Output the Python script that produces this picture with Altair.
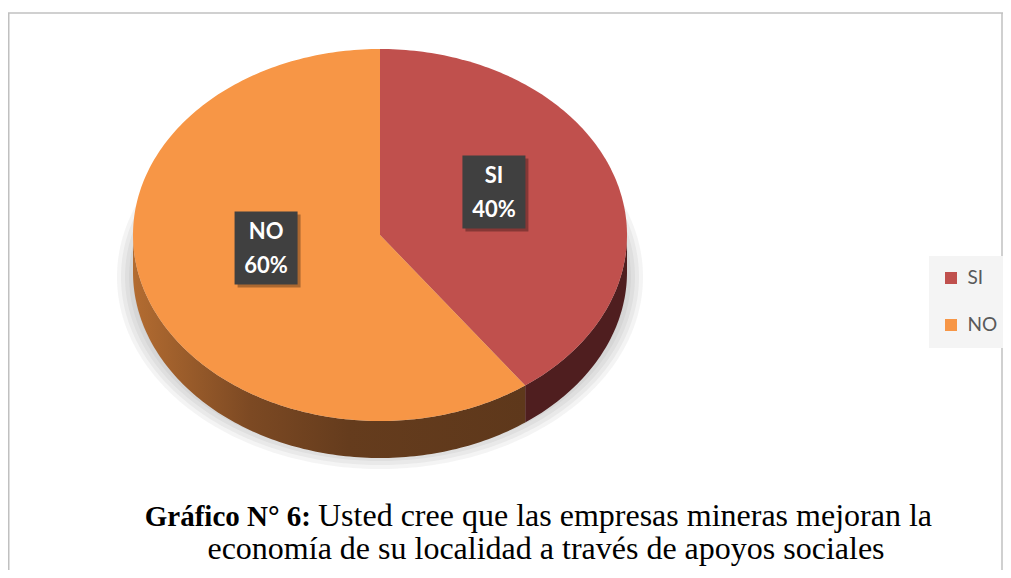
import altair as alt
import numpy as np

# ---- data ----
categories = ["SI", "NO"]
percents = [40, 60]
top_colors = ["#C0504D", "#F79646"]
side_colors = ["#4F1E1F", "#6A3F1E"]
pct_labels = ["40%", "60%"]
caption_bold = "Gráfico N° 6:"
caption_line1 = "Usted cree que las empresas mineras mejoran la"
caption_line2 = "economía de su localidad a través de apoyos sociales"

# ---- layout (style) ----
W, H = 995, 562
CX, CY, RX, RY, DEPTH = 372, 227, 247, 186, 37
LABEL_F, LABEL_UP = 0.485, 15
BOX_HW, BOX_HH = 31.5, 36.5


def ell(t_deg, dy=0.0, rx=RX, ry=RY, cx=CX, cy=CY):
    t = np.radians(t_deg)
    return [float(cx + rx * np.sin(t)), float(cy - ry * np.cos(t) + dy)]


def arc_pts(a0, a1, **kw):
    n = max(2, int(abs(a1 - a0)) + 1)
    return [ell(a, **kw) for a in np.linspace(a0, a1, n)]


def feature(ring, **props):
    ring = ring + [ring[0]]
    return {"type": "Feature",
            "geometry": {"type": "Polygon", "coordinates": [ring]},
            "properties": props}


def rect(cx, cy, hw, hh, **props):
    return feature([[cx - hw, cy - hh], [cx + hw, cy - hh], [cx + hw, cy + hh], [cx - hw, cy + hh]], **props)


total = sum(percents)
ends = list(np.cumsum(percents) / total * 360.0)
starts = [0.0] + ends[:-1]

proj = dict(type="identity", scale=1, translate=[0, 0])

# bounding frame (invisible) so that any fitting keeps 1:1 mapping
frame = [rect(W / 2, H / 2, W / 2, H / 2, cat="frame")]

# shadow
shadow_feats = []
for k in range(5):
    ring = arc_pts(0, 359, rx=RX + 4 * k, ry=RY - 10 + 4 * k, cy=CY + 42)
    shadow_feats.append(feature(ring, cat="shadow"))

layers = []
layers.append(alt.Chart(alt.Data(values=frame)).mark_geoshape(
    fill="white", fillOpacity=0, strokeWidth=0).project(**proj))
layers.append(alt.Chart(alt.Data(values=shadow_feats)).mark_geoshape(
    fill="#6F6F6F", fillOpacity=0.08, strokeWidth=0).project(**proj))

# side walls
grad_no = alt.LinearGradient(
    gradient="linear", x1=0, x2=1, y1=0, y2=0,
    stops=[alt.GradientStop(offset=0, color="#B36C31"),
           alt.GradientStop(offset=0.3, color="#7C4923"),
           alt.GradientStop(offset=0.55, color="#653C1D"),
           alt.GradientStop(offset=1, color="#5E381B")])
side_fills = [side_colors[0], grad_no]
for cat, a0, a1, fill in zip(categories, starts, ends, side_fills):
    s0, s1 = max(a0, 90.0), min(a1, 270.0)
    if s1 > s0:
        ring = arc_pts(s0, s1) + arc_pts(s1, s0, dy=DEPTH)
        layers.append(alt.Chart(alt.Data(values=[feature(ring, cat=cat)])).mark_geoshape(
            fill=fill, strokeWidth=0).project(**proj))

# top face
top_feats = []
for cat, a0, a1 in zip(categories, starts, ends):
    ring = [[float(CX), float(CY)]] + arc_pts(a0, a1)
    top_feats.append(feature(ring, cat=cat))

layers.append(alt.Chart(alt.Data(values=top_feats)).mark_geoshape(strokeWidth=0).encode(
    color=alt.Color("properties.cat:N",
                    scale=alt.Scale(domain=categories, range=top_colors),
                    legend=alt.Legend(orient="none", legendX=921, legendY=248, title=None,
                                      symbolType="square", symbolSize=144, symbolStrokeWidth=0,
                                      labelFont="Lato", labelFontSize=19, labelColor="#595959",
                                      rowPadding=27, padding=12.5, fillColor="#F4F4F4",
                                      labelOffset=7))
).project(**proj))

# label boxes
label_rows = []
box_feats = []
box_shadow = []
for cat, pl, a0, a1 in zip(categories, pct_labels, starts, ends):
    mid = (a0 + a1) / 2
    x, y = ell(mid, rx=RX * LABEL_F, ry=RY * LABEL_F)
    y -= LABEL_UP
    label_rows.append({"lon": x, "lat": y, "name": cat, "pct": pl})
    box_feats.append(rect(x, y, BOX_HW, BOX_HH, cat=cat))
    box_shadow.append(rect(x + 3, y + 3, BOX_HW, BOX_HH, cat=cat))

layers.append(alt.Chart(alt.Data(values=box_shadow)).mark_geoshape(
    fill="black", fillOpacity=0.3, strokeWidth=0).project(**proj))
layers.append(alt.Chart(alt.Data(values=box_feats)).mark_geoshape(
    fill="#404040", strokeWidth=0).project(**proj))

lab = alt.Chart(alt.Data(values=label_rows))
layers.append(lab.mark_text(font="Lato", fontWeight="bold", fontSize=22, color="white",
                            baseline="middle", dy=-16).encode(
    longitude="lon:Q", latitude="lat:Q", text="name:N").project(**proj))
layers.append(lab.mark_text(font="Lato", fontWeight="bold", fontSize=22, color="white",
                            baseline="middle", dy=18).encode(
    longitude="lon:Q", latitude="lat:Q", text="pct:N").project(**proj))

# caption
cap = alt.Chart(alt.Data(values=[{"b": caption_bold, "l1": caption_line1, "l2": caption_line2}]))
layers.append(cap.mark_text(font="Liberation Serif", fontWeight="bold", fontSize=29, color="black",
                            align="right", baseline="alphabetic").encode(
    x=alt.value(303), y=alt.value(518), text="b:N"))
layers.append(cap.mark_text(font="Liberation Serif", fontSize=32, color="black",
                            align="left", baseline="alphabetic").encode(
    x=alt.value(310), y=alt.value(518), text="l1:N"))
layers.append(cap.mark_text(font="Liberation Serif", fontSize=32, color="black",
                            align="center", baseline="alphabetic").encode(
    x=alt.value(538), y=alt.value(551), text="l2:N"))

# frame border
dummy = alt.Chart(alt.Data(values=[{"k": 1}]))
layers.append(dummy.mark_rule(color="#C0C0C0", strokeWidth=1.5).encode(
    x=alt.value(0), x2=alt.value(W), y=alt.value(5)))
layers.append(dummy.mark_rule(color="#C0C0C0", strokeWidth=1.5).encode(
    x=alt.value(0.75), y=alt.value(5), y2=alt.value(H)))
layers.append(dummy.mark_rule(color="#C0C0C0", strokeWidth=1.5).encode(
    x=alt.value(W - 1), y=alt.value(5), y2=alt.value(H)))

chart = alt.layer(*layers).properties(
    width=W, height=H, padding=0, autosize="none", background="white"
).configure_view(stroke=None)

chart.save("out.html", embed_options={"renderer": "svg", "actions": False})
